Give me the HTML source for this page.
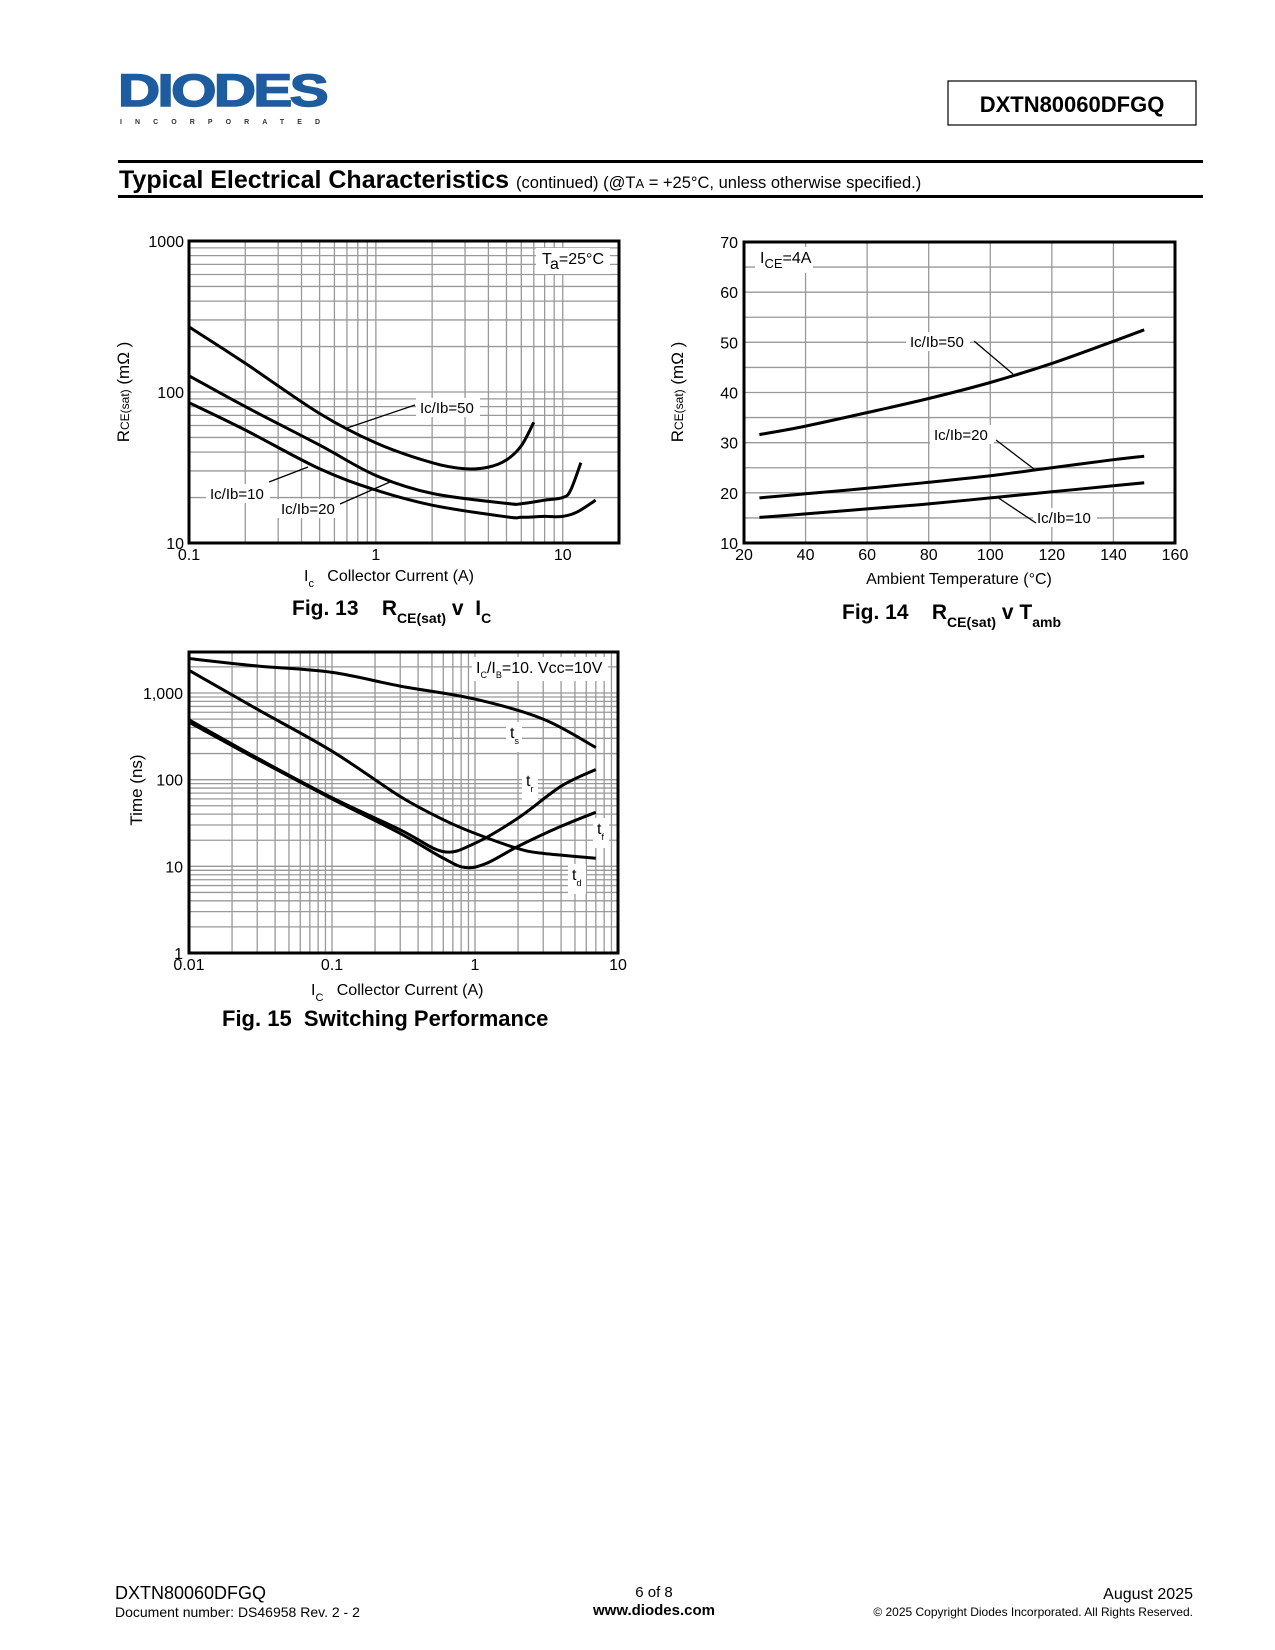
<!DOCTYPE html>
<html><head><meta charset="utf-8">
<style>
html,body{margin:0;padding:0;background:#fff}
svg{display:block;font-family:"Liberation Sans",Arial,sans-serif}
</style></head>
<body>
<svg id="page" width="1275" height="1650" viewBox="0 0 1275 1650" xmlns="http://www.w3.org/2000/svg">
<g>
  <text x="118" y="106" font-size="45" font-weight="bold" fill="#1d5d9f" textLength="208" lengthAdjust="spacingAndGlyphs" letter-spacing="-2" stroke="#1d5d9f" stroke-width="1.5">DIODES</text>
  <text x="120" y="124" font-size="7" font-weight="bold" fill="#333" textLength="200" lengthAdjust="spacing">INCORPORATED</text>
  <rect x="948" y="81" width="248" height="44" fill="none" stroke="#000" stroke-width="1.2"/>
  <text x="1072" y="112" font-size="22" font-weight="bold" text-anchor="middle">DXTN80060DFGQ</text>
  <rect x="118" y="160" width="1085" height="3" fill="#000"/>
  <text x="119" y="188" font-size="25" font-weight="bold">Typical Electrical Characteristics <tspan font-size="16.5" font-weight="normal">(continued) (@T<tspan font-size="13">A</tspan> = +25°C, unless otherwise specified.)</tspan></text>
  <rect x="118" y="195" width="1085" height="3" fill="#000"/>
</g>
<g id="fig13"></g>
<g id="fig14"></g>
<g id="fig15"></g>
<g>
  <text x="115" y="1599" font-size="18">DXTN80060DFGQ</text>
  <text x="115" y="1617" font-size="14">Document number: DS46958 Rev. 2 - 2</text>
  <text x="654" y="1597" font-size="15" text-anchor="middle">6 of 8</text>
  <text x="654" y="1615" font-size="15" font-weight="bold" text-anchor="middle">www.diodes.com</text>
  <text x="1193" y="1599" font-size="16" text-anchor="end">August 2025</text>
  <text x="1193" y="1616" font-size="12" text-anchor="end">© 2025 Copyright Diodes Incorporated. All Rights Reserved.</text>
</g>
</svg>
<script>
// Fig 13 data
const f13X50 = [0.1,0.2,0.5,1,2,3,4,5,6,7];
const f13Y50 = [270,155,72,46,34,31,31.8,35.5,44,63];
const f13X20 = [0.1,0.2,0.5,1,2,5,6,8,10,11,12.5];
const f13Y20 = [128,80,44.5,28,21.3,18.3,18.2,19.2,20,22.3,34];
const f13X10 = [0.1,0.2,0.5,1,2,5,6,8,10,12,15];
const f13Y10 = [85,56,31,22.4,17.8,14.9,14.8,15,15,16.1,19.2];
const f13XTicks = ["0.1","1","10"];
const f13YTicks = ["10","100","1000"];
// Fig 14 data
const f14Temps = [25,40,60,80,100,120,140,150];
const f14Y50 = [31.6,33.3,36,38.8,42,45.8,50.2,52.5];
const f14Y20 = [19,19.8,20.9,22.1,23.4,25,26.6,27.3];
const f14Y10 = [15.1,15.8,16.8,17.8,19,20.2,21.4,22];
const f14XTicks = ["20","40","60","80","100","120","140","160"];
const f14YTicks = ["10","20","30","40","50","60","70"];
// Fig 15 data
const f15XS = [0.01,0.03,0.1,0.3,1,3,7];
const f15YS = [2500,2050,1730,1200,850,500,235];
const f15XA = [0.01,0.03,0.1,0.3,0.6,1,2,3,7];
const f15YA = [1830,650,213,64,34.5,24,16,14.1,12.4];
const f15XB = [0.01,0.03,0.1,0.3,0.6,1,2,4,7];
const f15YB = [490,178,62,26.4,14.8,18.5,36,84,131];
const f15XC = [0.01,0.03,0.1,0.3,0.6,0.85,1.2,2,4,7];
const f15YC = [460,172,60,24,12.4,9.7,10.8,17,29,42];
const f15XTicks = ["0.01","0.1","1","10"];
const f15YTicks = ["1","10","100","1,000"];

const NS="http://www.w3.org/2000/svg";
function mk(parent,tag,attrs,txt){const e=document.createElementNS(NS,tag);for(const k in attrs)e.setAttribute(k,attrs[k]);if(txt!=null)e.textContent=txt;parent.appendChild(e);return e;}
function logScale(d0,d1,p0,p1){return v=>p0+(Math.log10(v)-Math.log10(d0))/(Math.log10(d1)-Math.log10(d0))*(p1-p0);}
function linScale(d0,d1,p0,p1){return v=>p0+(v-d0)/(d1-d0)*(p1-p0);}
function smoothPath(pts){
  let d="M"+pts[0][0].toFixed(1)+","+pts[0][1].toFixed(1);
  for(let i=0;i<pts.length-1;i++){
    const p0=pts[i-1]||pts[i],p1=pts[i],p2=pts[i+1],p3=pts[i+2]||p2;
    const c1=[p1[0]+(p2[0]-p0[0])/6,p1[1]+(p2[1]-p0[1])/6];
    const c2=[p2[0]-(p3[0]-p1[0])/6,p2[1]-(p3[1]-p1[1])/6];
    d+=" C"+c1.map(n=>n.toFixed(1))+" "+c2.map(n=>n.toFixed(1))+" "+p2[0].toFixed(1)+","+p2[1].toFixed(1);
  }
  return d;
}
function drawSeries(g,xs,ys,sx,sy,name,w){
  const p=mk(g,"path",{d:smoothPath(xs.map((x,i)=>[sx(x),sy(ys[i])])),fill:"none",stroke:"#000","stroke-width":w||3,"stroke-linejoin":"round"});
  
  
}
function gridLine(g,x1,y1,x2,y2){mk(g,"line",{x1,y1,x2,y2,stroke:"#999","stroke-width":1.3});}
function logGrid(g,min,max,sc,isX,a,b){
  for(let e=Math.floor(Math.log10(min));e<Math.log10(max);e++){
    for(let m=1;m<10;m++){const v=m*Math.pow(10,e);if(v<=min*1.0001||v>=max*0.9999)continue;const p=sc(v);isX?gridLine(g,p,a,p,b):gridLine(g,a,p,b,p);}
  }
}
function label(g,x,y,txt,name,size,anchor,bg){
  if(bg){mk(g,"rect",{x:bg[0],y:bg[1],width:bg[2],height:bg[3],fill:"#fff"});}
  const t=mk(g,"text",{x,y,"font-size":size||15,"text-anchor":anchor||"start"});
  t.innerHTML=txt;
  
  
  return t;
}

// ---- Fig 13 ----
(function(){
  const g=document.getElementById("fig13");
  const L=189,R=619,T=241,B=543;
  const sx=logScale(0.1,20,L,R), sy=logScale(10,1000,B,T);
  logGrid(g,0.1,20,sx,true,T,B); logGrid(g,10,1000,sy,false,L,R);
  drawSeries(g,f13X50,f13Y50,sx,sy,"curve-ic-ib-50");
  drawSeries(g,f13X20,f13Y20,sx,sy,"curve-ic-ib-20");
  drawSeries(g,f13X10,f13Y10,sx,sy,"curve-ic-ib-10");
  mk(g,"rect",{x:L,y:T,width:R-L,height:B-T,fill:"none",stroke:"#000","stroke-width":3});
  [0.1,1,10].forEach((v,i)=>label(g,sx(v),560,f13XTicks[i],"x-tick-label",16,"middle"));
  [10,100,1000].forEach((v,i)=>label(g,L-5,sy(v)+6,f13YTicks[i],"y-tick-label",16,"end"));
  label(g,542,264,'T<tspan dy="5">a</tspan><tspan dy="-5">=25°C</tspan>',"ta-annotation",16,"start",[536,248,74,26]);
  label(g,420,413,"Ic/Ib=50","label-ic-ib-50",15,"start",[416,398,64,19]);
  mk(g,"line",{x1:415,y1:405,x2:347,y2:428,stroke:"#000","stroke-width":1.3});
  label(g,210,499,"Ic/Ib=10","label-ic-ib-10",15,"start",[206,484,64,19]);
  mk(g,"line",{x1:269,y1:482,x2:308,y2:467,stroke:"#000","stroke-width":1.3});
  label(g,281,514,"Ic/Ib=20","label-ic-ib-20",15,"start",[277,499,64,19]);
  mk(g,"line",{x1:340,y1:504,x2:390,y2:482,stroke:"#000","stroke-width":1.3});
  label(g,304,581,'I<tspan dy="6" font-size="11">c</tspan><tspan dy="-6">&#160;&#160;&#160;Collector Current (A)</tspan>',"x-axis-title",16);
  const yt=label(g,0,0,'R<tspan font-size="12">CE(sat)</tspan> (mΩ )',"y-axis-title",17,"middle");
  yt.setAttribute("transform","translate(129,392) rotate(-90)");
  label(g,292,615,'Fig. 13&#160;&#160;&#160;&#160;R<tspan dy="8" font-size="14">CE(sat)</tspan><tspan dy="-8">&#160;v&#160;&#160;I</tspan><tspan dy="8" font-size="14">C</tspan>',"fig13-caption",21,"start").setAttribute("font-weight","bold");
})();

// ---- Fig 14 ----
(function(){
  const g=document.getElementById("fig14");
  const L=744,R=1175,T=242,B=543;
  const sx=linScale(20,160,L,R), sy=linScale(10,70,B,T);
  for(let v=40;v<160;v+=20)gridLine(g,sx(v),T,sx(v),B);
  for(let v=15;v<70;v+=5)gridLine(g,L,sy(v),R,sy(v));
  drawSeries(g,f14Temps,f14Y50,sx,sy,"curve-ic-ib-50");
  drawSeries(g,f14Temps,f14Y20,sx,sy,"curve-ic-ib-20");
  drawSeries(g,f14Temps,f14Y10,sx,sy,"curve-ic-ib-10");
  mk(g,"rect",{x:L,y:T,width:R-L,height:B-T,fill:"none",stroke:"#000","stroke-width":3});
  f14XTicks.forEach((t,i)=>label(g,sx(+t),560,t,"x-tick-label",16,"middle"));
  f14YTicks.forEach((t,i)=>label(g,L-6,sy(+t)+6,t,"y-tick-label",16,"end"));
  label(g,760,263,'I<tspan dy="5" font-size="13">CE</tspan><tspan dy="-5">=4A</tspan>',"ice-annotation",16,"start",[755,247,58,26]);
  label(g,910,347,"Ic/Ib=50","label-ic-ib-50",15,"start",[906,332,64,19]);
  mk(g,"line",{x1:974,y1:341,x2:1013,y2:374,stroke:"#000","stroke-width":1.3});
  label(g,934,440,"Ic/Ib=20","label-ic-ib-20",15,"start",[930,425,64,19]);
  mk(g,"line",{x1:996,y1:440,x2:1034,y2:469,stroke:"#000","stroke-width":1.3});
  label(g,1037,523,"Ic/Ib=10","label-ic-ib-10",15,"start",[1033,508,64,19]);
  mk(g,"line",{x1:997,y1:497,x2:1036,y2:523,stroke:"#000","stroke-width":1.3});
  label(g,959,584,"Ambient Temperature (°C)","x-axis-title",16,"middle");
  const yt=label(g,0,0,'R<tspan font-size="12">CE(sat)</tspan> (mΩ )',"y-axis-title",17,"middle");
  yt.setAttribute("transform","translate(683,392) rotate(-90)");
  label(g,842,619,'Fig. 14&#160;&#160;&#160;&#160;R<tspan dy="8" font-size="14">CE(sat)</tspan><tspan dy="-8">&#160;v T</tspan><tspan dy="8" font-size="14">amb</tspan>',"fig14-caption",21,"start").setAttribute("font-weight","bold");
})();

// ---- Fig 15 ----
(function(){
  const g=document.getElementById("fig15");
  const L=189,R=618,T=652,B=953;
  const sx=logScale(0.01,10,L,R), sy=logScale(1,1000,B,693);
  const yTop=Math.pow(10,(B-T)/(B-693)*3);
  logGrid(g,0.01,10,sx,true,T,B); logGrid(g,1,yTop,sy,false,L,R);
  drawSeries(g,f15XS,f15YS,sx,sy,"curve-ts");
  drawSeries(g,f15XA,f15YA,sx,sy,"curve-td");
  drawSeries(g,f15XB,f15YB,sx,sy,"curve-tr");
  drawSeries(g,f15XC,f15YC,sx,sy,"curve-tf");
  mk(g,"rect",{x:L,y:T,width:R-L,height:B-T,fill:"none",stroke:"#000","stroke-width":3});
  [0.01,0.1,1,10].forEach((v,i)=>label(g,sx(v),970,f15XTicks[i],"x-tick-label",16,"middle"));
  [1,10,100,1000].forEach((v,i)=>label(g,L-6,sy(v)+6,f15YTicks[i],"y-tick-label",16,"end"));
  label(g,476,673,'I<tspan dy="5" font-size="9">C</tspan><tspan dy="-5">/I</tspan><tspan dy="5" font-size="9">B</tspan><tspan dy="-5">=10. Vcc=10V</tspan>',"test-conditions",16,"start",[472,657,136,24]);
  label(g,510,738,'t<tspan dy="6" font-size="9">s</tspan>',"label-ts",16,"start",[506,722,16,30]);
  label(g,526,786,'t<tspan dy="6" font-size="9">r</tspan>',"label-tr",16,"start",[522,770,16,30]);
  label(g,597,834,'t<tspan dy="6" font-size="9">f</tspan>',"label-tf",16,"start",[593,818,16,30]);
  label(g,572,880,'t<tspan dy="6" font-size="9">d</tspan>',"label-td",16,"start",[568,864,18,30]);
  label(g,311,995,'I<tspan dy="6" font-size="11">C</tspan><tspan dy="-6">&#160;&#160;&#160;Collector Current (A)</tspan>',"x-axis-title",16);
  const yt=label(g,0,0,"Time (ns)","y-axis-title",17,"middle");
  yt.setAttribute("transform","translate(142,790) rotate(-90)");
  label(g,222,1026,"Fig. 15&#160;&#160;Switching Performance","fig15-caption",22,"start").setAttribute("font-weight","bold");
})();
</script>
</body></html>
